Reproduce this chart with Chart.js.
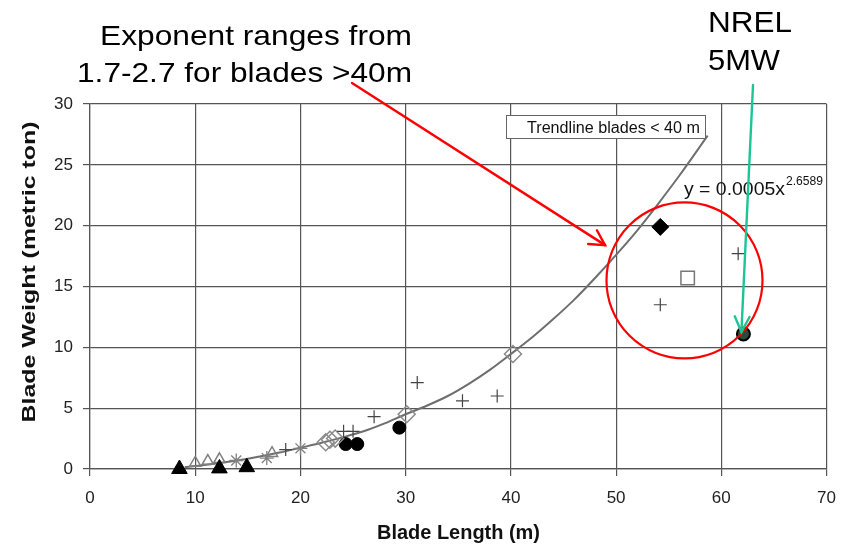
<!DOCTYPE html>
<html><head><meta charset="utf-8">
<script src="https://cdn.jsdelivr.net/npm/chart.js@4/dist/chart.umd.min.js"></script>
<style>html,body{margin:0;padding:0;background:#fff;}canvas{display:block;}</style>
</head><body>
<canvas id="c" width="848" height="545"></canvas>
<script>
// ---- data ----
const xTicks = [0, 10, 20, 30, 40, 50, 60, 70];
const yTicks = [0, 5, 10, 15, 20, 25, 30];

const filledTriangles = [{x:8.5,y:0.0},{x:12.3,y:0.05},{x:14.9,y:0.15}];
const openTriangles   = [{x:10.0,y:0.5},{x:11.2,y:0.65},{x:12.3,y:0.8},{x:17.3,y:1.3}];
const asterisks       = [{x:13.9,y:0.7},{x:16.8,y:0.9},{x:20.0,y:1.7}];
const plusPoints      = [{x:18.6,y:1.6},{x:24.1,y:3.1},{x:25.0,y:3.1},{x:27.0,y:4.3},{x:31.1,y:7.1},{x:35.4,y:5.6},{x:38.7,y:6.0},{x:54.2,y:13.5},{x:61.6,y:17.7}];
const openDiamonds    = [{x:22.4,y:2.2},{x:22.8,y:2.4},{x:23.3,y:2.5},{x:30.1,y:4.5},{x:40.2,y:9.45}];
const filledCircles   = [{x:24.3,y:2.05},{x:25.4,y:2.05},{x:29.4,y:3.4}];
const filledDiamond   = [{x:54.2,y:19.9}];
const openSquare      = [{x:56.8,y:15.7}];
const nrel5MW         = [{x:62.1,y:11.1}];

const trendX = [9,10,12,14,16,18,20,22,24,26,28,30,32,34,36,38,40,42,44,46,48,50,52,54,56,58.7];
const trendY = [0.15,0.25,0.45,0.7,1.0,1.35,1.75,2.15,2.6,3.1,3.75,4.5,5.2,6.0,7.0,8.15,9.45,10.8,12.3,13.9,15.7,17.6,19.6,21.8,24.1,27.4];
const trendline = trendX.map((x,i)=>({x:x,y:trendY[i]}));

const circleCenter = {x:56.5, y:15.5};
const redArrowTip = {x:48.95, y:18.4};

const FONT = "'Liberation Sans', Arial, sans-serif";

function fitText(ctx, text, x, y, size, weight, width) {
  ctx.save();
  ctx.font = weight + ' ' + size + 'px ' + FONT;
  const m = ctx.measureText(text).width;
  ctx.translate(x, y);
  ctx.scale(width / m, 1);
  ctx.textAlign = 'left';
  ctx.textBaseline = 'alphabetic';
  ctx.fillText(text, 0, 0);
  ctx.restore();
}

function arrow(ctx, x1, y1, x2, y2, color, lw, headLen, headAng) {
  ctx.save();
  ctx.strokeStyle = color; ctx.lineWidth = lw; ctx.lineCap = 'round';
  ctx.beginPath(); ctx.moveTo(x1, y1); ctx.lineTo(x2, y2); ctx.stroke();
  const a = Math.atan2(y2 - y1, x2 - x1);
  ctx.beginPath();
  ctx.moveTo(x2 - headLen * Math.cos(a - headAng), y2 - headLen * Math.sin(a - headAng));
  ctx.lineTo(x2, y2);
  ctx.lineTo(x2 - headLen * Math.cos(a + headAng), y2 - headLen * Math.sin(a + headAng));
  ctx.stroke();
  ctx.restore();
}

const annotations = {
  id: 'annotations',
  afterDraw(chart) {
    const ctx = chart.ctx;
    const xs = chart.scales.x, ys = chart.scales.y;
    ctx.save();
    ctx.fillStyle = '#111';
    // axis titles
    fitText(ctx, 'Blade Length (m)', 377, 539, 20, 'bold', 163);
    ctx.save();
    ctx.translate(30, 272);
    ctx.rotate(-Math.PI / 2);
    ctx.font = 'bold 18px ' + FONT;
    const tw = ctx.measureText('Blade Weight (metric ton)').width;
    ctx.scale(301 / tw, 1);
    ctx.textAlign = 'center'; ctx.textBaseline = 'middle';
    ctx.fillText('Blade Weight (metric ton)', 0, 0);
    ctx.restore();

    // trendline label box
    ctx.fillStyle = '#fff';
    ctx.fillRect(506, 115, 199, 23);
    ctx.strokeStyle = '#666'; ctx.lineWidth = 1;
    ctx.strokeRect(506.5, 115.5, 199, 23);
    ctx.fillStyle = '#111';
    fitText(ctx, 'Trendline blades < 40 m', 527, 133, 16, 'normal', 173);

    // equation
    fitText(ctx, 'y = 0.0005x', 684, 195, 18, 'normal', 101);
    fitText(ctx, '2.6589', 786, 185, 12, 'normal', 37);

    // headline texts
    ctx.fillStyle = '#000';
    fitText(ctx, 'Exponent ranges from', 100, 45, 28, 'normal', 312);
    fitText(ctx, '1.7-2.7 for blades >40m', 77, 82, 28, 'normal', 335);
    fitText(ctx, 'NREL', 708, 32, 30, 'normal', 84);
    fitText(ctx, '5MW', 708, 70, 30, 'normal', 72);

    // red circle
    ctx.strokeStyle = '#f00'; ctx.lineWidth = 2.2;
    ctx.beginPath();
    ctx.arc(xs.getPixelForValue(circleCenter.x), ys.getPixelForValue(circleCenter.y), 78, 0, Math.PI * 2);
    ctx.stroke();

    // red arrow
    arrow(ctx, 352, 83, xs.getPixelForValue(redArrowTip.x), ys.getPixelForValue(redArrowTip.y), '#f00', 2.4, 17, 0.5);
    // green arrow
    arrow(ctx, 753, 85, xs.getPixelForValue(nrel5MW[0].x) - 2, ys.getPixelForValue(nrel5MW[0].y) - 2, '#1cc596', 2.4, 17, 0.45);
    ctx.restore();
  }
};

const tickFont = {family: FONT, size: 17};

new Chart(document.getElementById('c'), {
  type: 'scatter',
  data: {
    datasets: [
      {label:'Trendline', data: trendline, showLine: true, borderColor:'#6e6e6e', borderWidth:2, pointRadius:0, cubicInterpolationMode:'monotone', clip:false, order:10},
      {label:'A', data: filledTriangles, pointStyle:'triangle', pointRadius:9, backgroundColor:'#000', borderColor:'#000', borderWidth:1, clip:false},
      {label:'B', data: openTriangles, pointStyle:'triangle', pointRadius:6.5, backgroundColor:'rgba(255,255,255,0)', borderColor:'#808080', borderWidth:1.5, clip:false},
      {label:'C', data: asterisks, pointStyle:'star', pointRadius:7, backgroundColor:'#808080', borderColor:'#808080', borderWidth:1.3, clip:false},
      {label:'D', data: plusPoints, pointStyle:'cross', pointRadius:6.5, backgroundColor:'#444', borderColor:'#444', borderWidth:1.2, clip:false},
      {label:'E', data: openDiamonds, pointStyle:'rectRot', pointRadius:8.5, backgroundColor:'rgba(255,255,255,0)', borderColor:'#8a8a8a', borderWidth:1.5, clip:false},
      {label:'F', data: filledCircles, pointStyle:'circle', pointRadius:6.5, backgroundColor:'#000', borderColor:'#000', borderWidth:1, clip:false},
      {label:'G', data: filledDiamond, pointStyle:'rectRot', pointRadius:8.5, backgroundColor:'#000', borderColor:'#000', borderWidth:1, clip:false},
      {label:'H', data: openSquare, pointStyle:'rect', pointRadius:9.5, backgroundColor:'#fff', borderColor:'#777', borderWidth:1.5, clip:false},
      {label:'NREL 5MW', data: nrel5MW, pointStyle:'circle', pointRadius:6.5, backgroundColor:'#2c4a3a', borderColor:'#000', borderWidth:2, clip:false}
    ]
  },
  options: {
    responsive: false,
    animation: false,
    devicePixelRatio: 1,
    layout: {padding: {top: 104, right: 20, left: 0, bottom: 0}},
    plugins: {legend: {display:false}, tooltip: {enabled:false}, title: {display:false}},
    scales: {
      x: {
        type:'linear', min:0, max:70,
        afterBuildTicks: s => { s.ticks = xTicks.map(v => ({value: v})); },
        afterFit: s => { s.height = 76; },
        ticks: {font: tickFont, color:'#222', padding: 12, maxRotation: 0, autoSkip: false},
        grid: {color:'#555', lineWidth: 1.2, tickLength: 7, drawTicks: true},
        border: {display: true, color:'#555', width: 1.2},
        title: {display:false}
      },
      y: {
        type:'linear', min:0, max:30,
        afterBuildTicks: s => { s.ticks = yTicks.map(v => ({value: v})); },
        afterFit: s => { s.width = 90; },
        ticks: {font: tickFont, color:'#222', padding: 10, autoSkip: false},
        grid: {color:'#555', lineWidth: 1.2, tickLength: 7, drawTicks: true},
        border: {display: true, color:'#555', width: 1.2},
        title: {display:false}
      }
    }
  },
  plugins: [annotations]
});
</script>
</body></html>
